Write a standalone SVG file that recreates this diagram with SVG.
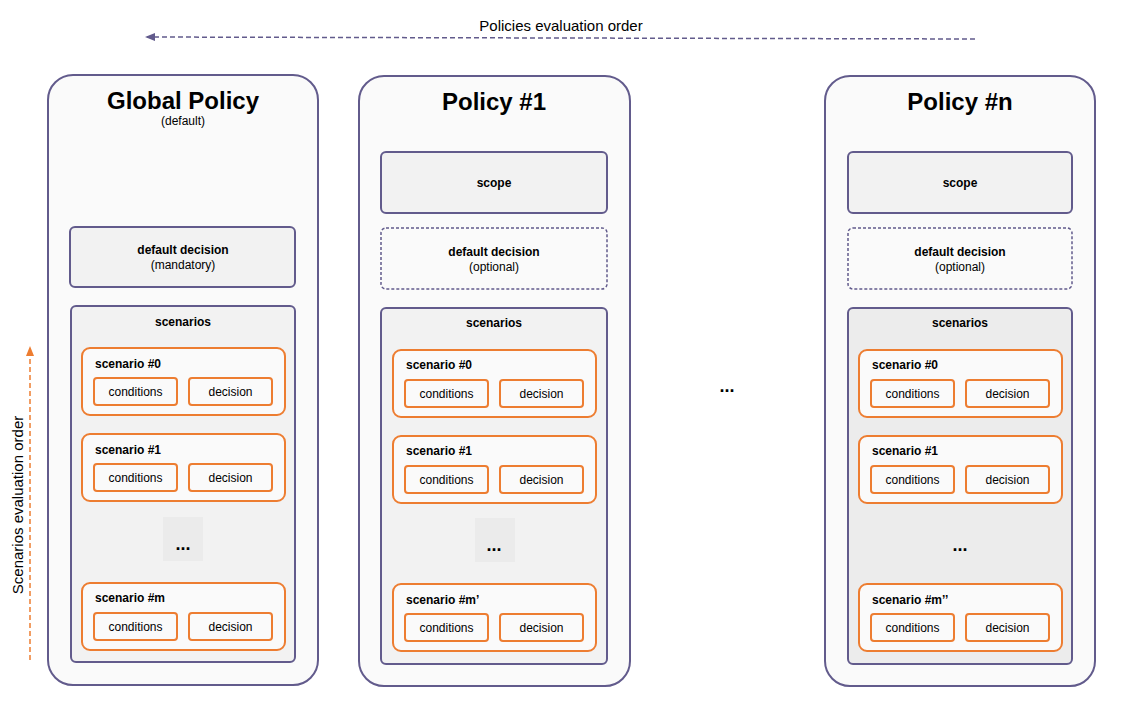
<svg xmlns="http://www.w3.org/2000/svg" width="1142" height="706" viewBox="0 0 1142 706">
<style>
text{font-family:"Liberation Sans",Arial,sans-serif;fill:#000;text-anchor:middle}
.pol{fill:#fafafa;stroke:#625b8c;stroke-width:2}
.box{fill:#f2f2f2;stroke:#625b8c;stroke-width:2}
.dbox{fill:#fafafa;stroke:#625b8c;stroke-width:1.5;stroke-dasharray:3 2}
.sc{fill:#fafafa;stroke:#ed7d31;stroke-width:2}
.t{font-size:24px;font-weight:bold}
.b{font-size:12px;font-weight:bold}
.s{font-size:12px}
.sl{font-size:12px;font-weight:bold;text-anchor:start}
.dots{font-size:18px;font-weight:bold}
</style>
<defs>
<marker id="ap" markerWidth="10" markerHeight="8" refX="8" refY="4" orient="auto" markerUnits="userSpaceOnUse"><path d="M0,0L10,4L0,8Z" fill="#625b8c"/></marker>
<marker id="ao" markerWidth="10" markerHeight="8" refX="8" refY="4" orient="auto" markerUnits="userSpaceOnUse"><path d="M0,0L10,4L0,8Z" fill="#ed7d31"/></marker>
<symbol id="scn" overflow="visible">
<rect class="sc" x="0" y="0" width="203" height="67" rx="8"/>
<rect class="sc" x="12" y="30" width="83" height="27" rx="3"/>
<rect class="sc" x="107" y="30" width="83" height="27" rx="3"/>
<text class="s" x="53.5" y="48">conditions</text>
<text class="s" x="148.5" y="48">decision</text>
</symbol>
</defs>
<g id="connectors">
<line x1="975" y1="39" x2="147" y2="37" stroke="#625b8c" stroke-width="1.5" stroke-dasharray="5 3" marker-end="url(#ap)"/>
<line x1="30" y1="660" x2="30" y2="348" stroke="#ed7d31" stroke-width="1.5" stroke-dasharray="5 3" marker-end="url(#ao)"/>
</g>
<text x="561" y="31" style="font-size:15px">Policies evaluation order</text>
<text transform="translate(23,505) rotate(-90)" style="font-size:15px">Scenarios evaluation order</text>
<text class="dots" x="727" y="392">...</text>

<g id="global-policy">
<rect class="pol" x="48" y="75" width="270" height="610" rx="25"/>
<text class="t" x="183" y="109">Global Policy</text>
<text class="s" x="183" y="125">(default)</text>
<rect class="box" x="70" y="227" width="225" height="60" rx="5"/>
<text class="b" x="183" y="254">default decision</text>
<text class="s" x="183" y="269">(mandatory)</text>
<rect class="box" x="71" y="306" width="224" height="356" rx="5"/>
<text class="b" x="183" y="326">scenarios</text>
<use href="#scn" x="82" y="348"/><text class="sl" x="95" y="368">scenario #0</text>
<use href="#scn" x="82" y="434"/><text class="sl" x="95" y="454">scenario #1</text>
<rect x="163" y="517" width="40" height="44" fill="#ebebeb"/>
<text class="dots" x="183" y="550">...</text>
<use href="#scn" x="82" y="583"/><text class="sl" x="95" y="602">scenario #m</text>
</g>

<g id="policy-1">
<rect class="pol" x="359" y="76" width="271" height="610" rx="25"/>
<text class="t" x="494" y="110">Policy #1</text>
<rect class="box" x="381" y="152" width="226" height="61" rx="5"/>
<text class="b" x="494" y="187">scope</text>
<rect class="dbox" x="381" y="228" width="226" height="61" rx="5"/>
<text class="b" x="494" y="256">default decision</text>
<text class="s" x="494" y="271">(optional)</text>
<rect class="box" x="381" y="308" width="226" height="356" rx="5"/>
<text class="b" x="494" y="327">scenarios</text>
<use href="#scn" x="393" y="350"/><text class="sl" x="406" y="369">scenario #0</text>
<use href="#scn" x="393" y="436"/><text class="sl" x="406" y="455">scenario #1</text>
<rect x="475" y="518" width="40" height="44" fill="#ebebeb"/>
<text class="dots" x="494" y="551">...</text>
<use href="#scn" x="393" y="584"/><text class="sl" x="406" y="604">scenario #m’</text>
</g>

<g id="policy-n">
<rect class="pol" x="825" y="76" width="270" height="610" rx="25"/>
<text class="t" x="960" y="110">Policy #n</text>
<rect class="box" x="848" y="152" width="224" height="61" rx="5"/>
<text class="b" x="960" y="187">scope</text>
<rect class="dbox" x="848" y="228" width="224" height="61" rx="5"/>
<text class="b" x="960" y="256">default decision</text>
<text class="s" x="960" y="271">(optional)</text>
<rect class="box" x="848" y="308" width="224" height="356" rx="5" style="fill:#ececec"/>
<text class="b" x="960" y="327">scenarios</text>
<use href="#scn" x="859" y="350"/><text class="sl" x="872" y="369">scenario #0</text>
<use href="#scn" x="859" y="436"/><text class="sl" x="872" y="455">scenario #1</text>
<text class="dots" x="960" y="551">...</text>
<use href="#scn" x="859" y="584"/><text class="sl" x="872" y="604">scenario #m’’</text>
</g>
</svg>
